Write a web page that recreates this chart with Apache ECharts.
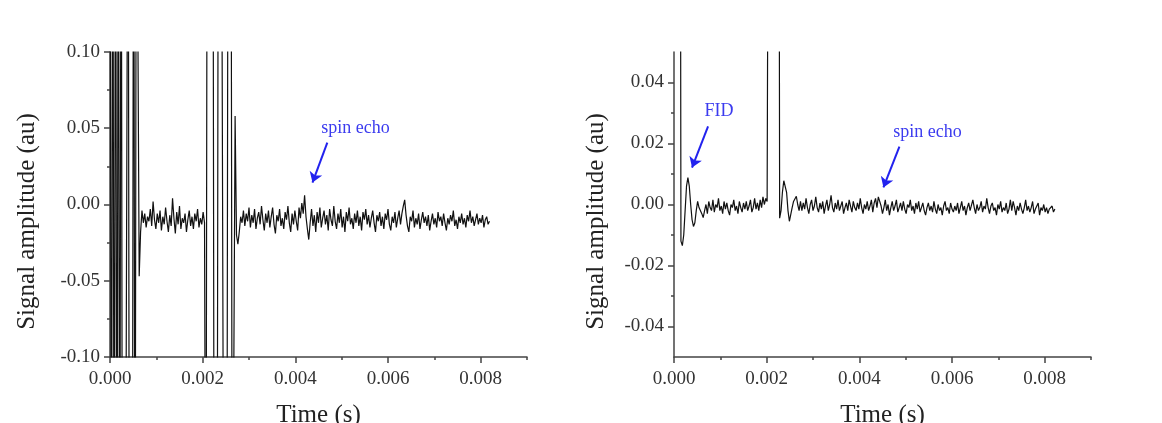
<!DOCTYPE html>
<html><head><meta charset="utf-8">
<script src="https://cdn.jsdelivr.net/npm/echarts@6/dist/echarts.min.js"></script>
<style>html,body{margin:0;padding:0;background:#fff}#c{width:1162px;height:423px}</style>
</head><body><div id="c"></div>
<script>
// sampling step of the recorded traces (s)
const SAMPLE_DT = 0.00003;

// left panel: signal amplitude (au), one value per sample
const leftValues = [
  0.3,-0.3,0.3,-0.3,0.3,-0.3,0.3,-0.3,0.3,-0.3,
  -0.3,-0.3,-0.3,0.3,-0.3,-0.3,-0.3,0.3,-0.3,0.3,
  0.3,-0.047,-0.018,
  -0.004,-0.012,-0.006,-0.015,-0.008,-0.011,-0.003,-0.014,0.002,-0.010,
  -0.016,-0.006,-0.012,-0.004,-0.017,-0.008,-0.013,-0.002,-0.011,-0.018,
  -0.007,-0.014,0.004,-0.009,-0.019,-0.005,-0.013,-0.001,-0.016,-0.009,
  -0.012,-0.006,-0.018,-0.010,-0.004,-0.014,-0.008,-0.016,-0.006,-0.011,
  -0.003,-0.015,-0.009,-0.013,-0.005,-0.012,
  -0.3,0.3,0.3,0.3,0.3,0.3,-0.3,-0.3,-0.3,0.3,
  0.3,0.3,0.3,-0.3,-0.3,-0.3,0.3,0.3,0.3,-0.3,
  -0.3,0.058,-0.02,-0.026,
  -0.018,-0.008,-0.012,-0.004,-0.014,-0.006,-0.011,-0.002,-0.015,-0.007,
  -0.012,-0.003,-0.016,-0.009,-0.005,-0.013,-0.001,-0.010,-0.017,-0.006,
  -0.012,-0.004,-0.015,-0.008,-0.002,-0.013,-0.019,-0.007,-0.011,-0.003,
  -0.014,-0.009,-0.016,-0.005,-0.010,-0.001,-0.012,-0.018,-0.006,-0.013,
  -0.004,-0.011,-0.017,-0.002,-0.009,0.001,-0.006,0.006,-0.008,-0.016,
  -0.023,-0.012,-0.003,-0.014,-0.007,-0.018,-0.005,-0.012,-0.002,-0.015,
  -0.009,-0.004,-0.013,-0.007,-0.017,-0.003,-0.010,-0.014,-0.001,-0.011,
  -0.016,-0.006,-0.012,-0.003,-0.015,-0.008,-0.018,-0.005,-0.011,-0.002,
  -0.013,-0.009,-0.016,-0.006,-0.012,-0.004,-0.014,-0.008,-0.017,-0.005,
  -0.010,-0.003,-0.013,-0.007,-0.015,-0.009,-0.004,-0.012,-0.018,-0.007,
  -0.011,-0.005,-0.014,-0.008,-0.016,-0.006,-0.010,-0.003,-0.013,-0.017,
  -0.008,-0.012,-0.005,-0.015,-0.009,-0.004,-0.013,-0.006,-0.001,0.003,
  -0.007,-0.014,-0.018,-0.008,-0.011,-0.004,-0.015,-0.009,-0.013,-0.006,
  -0.016,-0.010,-0.005,-0.012,-0.008,-0.014,-0.007,-0.017,-0.011,-0.006,
  -0.013,-0.009,-0.015,-0.005,-0.011,-0.008,-0.014,-0.006,-0.012,-0.017,
  -0.009,-0.013,-0.007,-0.011,-0.004,-0.014,-0.010,-0.016,-0.008,-0.012,
  -0.006,-0.013,-0.009,-0.015,-0.007,-0.011,-0.004,-0.012,-0.008,-0.014,
  -0.010,-0.006,-0.013,-0.009,-0.012,-0.007,-0.015,-0.010,-0.008,-0.013,-0.011
];

// right panel: signal amplitude (au), one value per sample
const rightValues = [
  0.3,0.3,0.3,0.3,0.3,
  -0.012,-0.0135,-0.010,-0.002,0.006,0.0088,0.006,0.0,-0.005,-0.0072,
  -0.006,-0.002,0.001,-0.001,-0.001,-0.003,-0.0043,
  -0.002,0.000,-0.003,0.001,-0.001,-0.002,0.0015,-0.0025,0.000,-0.001,
  0.002,-0.002,-0.0005,-0.003,0.001,-0.0015,0.0005,-0.002,-0.0035,0.000,
  -0.001,0.0015,-0.002,-0.0005,-0.003,0.001,-0.001,-0.0025,0.0005,-0.0015,
  0.001,-0.002,-0.0005,0.0015,-0.0025,-0.001,0.002,-0.0015,0.0005,-0.002,
  0.0015,-0.001,0.0025,0.000,0.002,0.001,
  0.001,0.3,0.3,0.3,0.3,0.3,0.3,0.3,
  -0.0045,-0.002,0.004,0.0078,0.0082,0.004,-0.002,-0.0055,-0.005,-0.001,
  0.001,0.0005,0.0027,0.000,-0.002,
  0.001,-0.002,0.0005,-0.0015,0.002,-0.001,-0.003,0.000,0.0015,-0.002,
  -0.0005,0.0025,-0.001,-0.0025,0.0005,-0.0015,0.001,-0.003,-0.0005,0.0015,
  -0.002,0.000,0.003,-0.001,-0.0025,0.0005,-0.0015,0.0015,-0.002,-0.0005,
  0.001,-0.003,-0.001,0.0005,-0.002,0.0015,-0.0005,-0.0025,0.001,-0.001,
  -0.002,0.0005,-0.0015,0.002,-0.001,-0.003,0.000,-0.0015,0.001,-0.002,
  -0.0005,0.0015,-0.0025,0.0005,0.002,-0.001,0.0025,0.003,-0.0005,-0.003,
  -0.001,0.0015,-0.002,0.000,-0.0035,-0.001,0.001,-0.002,-0.0005,0.0015,
  -0.0025,-0.001,0.0005,-0.002,0.001,-0.0015,-0.003,0.000,-0.001,0.0015,
  -0.002,-0.0005,-0.003,0.0005,-0.0015,0.001,-0.0025,-0.001,0.0005,-0.002,
  -0.0035,-0.001,0.0005,-0.002,-0.0005,-0.0025,0.001,-0.0015,-0.003,0.000,
  -0.002,-0.001,-0.0035,-0.0005,0.001,-0.002,-0.001,-0.003,0.0005,-0.0015,
  -0.0025,-0.0005,-0.002,0.0005,-0.003,-0.001,0.001,-0.002,-0.0005,-0.0035,
  -0.001,0.0005,-0.002,-0.0015,0.0015,-0.001,-0.003,0.000,-0.002,-0.001,
  0.001,-0.0025,-0.0005,-0.0015,0.002,-0.001,-0.003,-0.0005,0.0005,-0.002,
  -0.001,-0.0035,0.000,-0.0015,0.001,-0.0025,-0.001,-0.002,0.0005,-0.003,
  -0.0015,0.0015,-0.002,0.001,-0.001,-0.0035,-0.0005,-0.002,0.0005,-0.0015,
  -0.003,-0.001,0.0015,-0.002,-0.0005,-0.0025,-0.001,0.001,-0.003,-0.0015,
  -0.002,0.0005,-0.0035,-0.001,-0.002,0.000,-0.0025,-0.001,-0.003,-0.0015,
  -0.002,-0.0005,-0.0025,-0.0015
];

// axis ticks
const xMajorTicks = [0, 0.002, 0.004, 0.006, 0.008];
const xMinorTicks = [0.001, 0.003, 0.005, 0.007, 0.009];
const leftYMajor = [-0.1, -0.05, 0, 0.05, 0.1];
const leftYMinor = [-0.075, -0.025, 0.025, 0.075];
const rightYMajor = [-0.04, -0.02, 0, 0.02, 0.04];
const rightYMinor = [-0.03, -0.01, 0.01, 0.03];

// annotations: [text, textAt, arrowFrom, arrowTo] in data units
const leftNotes = [['spin echo', [0.0053, 0.0498], [0.00469, 0.0406], [0.00437, 0.0144]]];
const rightNotes = [
  ['FID', [0.00097, 0.0305], [0.000735, 0.0256], [0.000389, 0.0121]],
  ['spin echo', [0.00547, 0.0236], [0.004865, 0.019], [0.00452, 0.0056]]
];

const SERIF = '"Liberation Serif","Times New Roman",serif';
const AXIS_COLOR = '#444';
const toSeries = vals => vals.map((v, i) => [+(i * SAMPLE_DT).toFixed(6), v]);

function majorX(grid) {
  return {
    type: 'value', gridIndex: grid, min: 0, max: 0.009, position: 'bottom',
    axisLine: { onZero: false, lineStyle: { color: AXIS_COLOR, width: 1.5 } },
    axisTick: { customValues: xMajorTicks, length: 6, lineStyle: { color: AXIS_COLOR, width: 1.5 } },
    axisLabel: { customValues: xMajorTicks, formatter: v => v.toFixed(3), fontFamily: SERIF, fontSize: 19, color: '#333', margin: 13 },
    splitLine: { show: false },
    name: 'Time (s)', nameLocation: 'middle', nameGap: 46,
    nameTextStyle: { fontFamily: SERIF, fontSize: 25, color: '#222' }
  };
}
function minorX(grid) {
  return {
    type: 'value', gridIndex: grid, min: 0, max: 0.009, position: 'bottom',
    axisLine: { show: false, onZero: false },
    axisTick: { customValues: xMinorTicks, length: 3, lineStyle: { color: AXIS_COLOR, width: 1.5 } },
    axisLabel: { show: false }, splitLine: { show: false }
  };
}
function majorY(grid, min, max, ticks, gap) {
  return {
    type: 'value', gridIndex: grid, min, max, position: 'left',
    axisLine: { show: true, onZero: false, lineStyle: { color: AXIS_COLOR, width: 1.5 } },
    axisTick: { show: true, customValues: ticks, length: 6, lineStyle: { color: AXIS_COLOR, width: 1.5 } },
    axisLabel: { customValues: ticks, formatter: v => v.toFixed(2), fontFamily: SERIF, fontSize: 19, color: '#333', margin: 10 },
    splitLine: { show: false },
    name: 'Signal amplitude (au)', nameLocation: 'middle', nameGap: gap,
    nameTextStyle: { fontFamily: SERIF, fontSize: 25, color: '#222', padding: [0, 34, 0, 0] }
  };
}
function minorY(grid, min, max, ticks) {
  return {
    type: 'value', gridIndex: grid, min, max, position: 'left',
    axisLine: { show: false, onZero: false },
    axisTick: { show: true, customValues: ticks, length: 3, lineStyle: { color: AXIS_COLOR, width: 1.5 } },
    axisLabel: { show: false }, splitLine: { show: false }
  };
}
function notes(list) {
  return {
    markLine: {
      silent: true, animation: false, symbol: ['none', 'arrow'], symbolSize: 10,
      lineStyle: { color: '#2222ee', width: 2, type: 'solid' }, label: { show: false },
      data: list.map(n => [{ coord: n[2] }, { coord: n[3] }])
    },
    markPoint: {
      silent: true, animation: false, symbol: 'circle', symbolSize: 1,
      itemStyle: { color: 'rgba(0,0,0,0)' },
      label: { show: true, formatter: '{b}', position: 'inside', color: '#3b3bef', fontFamily: SERIF, fontSize: 18 },
      data: list.map(n => ({ name: n[0], coord: n[1] }))
    }
  };
}
function trace(xi, yi, vals, list) {
  return Object.assign({
    type: 'line', xAxisIndex: xi, yAxisIndex: yi, data: toSeries(vals),
    symbol: 'none', showSymbol: false, clip: true,
    lineStyle: { color: '#111', width: 1.2 }
  }, notes(list));
}

const chart = echarts.init(document.getElementById('c'), null, { renderer: 'canvas' });
chart.setOption({
  animation: false,
  backgroundColor: '#fff',
  grid: [
    { left: 110, top: 52, width: 417, height: 305, containLabel: false, outerBoundsMode: 'none' },
    { left: 674, top: 52, width: 417, height: 305, containLabel: false, outerBoundsMode: 'none' }
  ],
  xAxis: [majorX(0), minorX(0), majorX(1), minorX(1)],
  yAxis: [
    majorY(0, -0.1, 0.1, leftYMajor, 70), minorY(0, -0.1, 0.1, leftYMinor),
    majorY(1, -0.05, 0.05, rightYMajor, 65), minorY(1, -0.05, 0.05, rightYMinor)
  ],
  series: [trace(0, 0, leftValues, leftNotes), trace(2, 2, rightValues, rightNotes)]
});
</script></body></html>
